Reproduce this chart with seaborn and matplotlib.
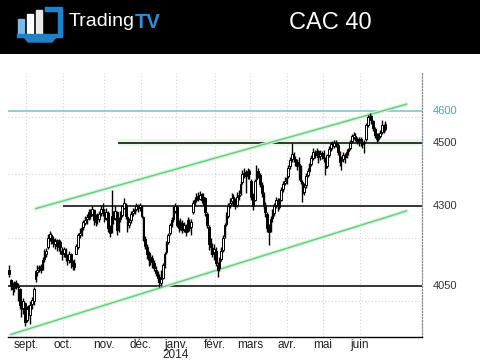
import matplotlib
matplotlib.use("Agg")
import matplotlib.pyplot as plt
import matplotlib.transforms as mtransforms
from matplotlib.patches import Rectangle, Polygon
import numpy as np
import pandas as pd
import seaborn as sns

# trading calendar (Euronext), axis runs a few weeks past the last candle
first_day = "2013-08-19"
axis_last_day = "2014-07-18"
market_holidays = ["2013-12-25", "2013-12-26", "2014-01-01",
                   "2014-04-18", "2014-04-21", "2014-05-01"]

opens = [4100, 4068, 4045, 4042, 4058, 4050, 4040, 3985, 3978, 3995,
         3940, 3980, 3958, 3992, 4000, 4070, 4092, 4105, 4110, 4102, 4135,
         4148, 4170, 4200, 4210, 4198, 4180, 4192, 4170, 4188, 4160,
         4152, 4162, 4138, 4130, 4148, 4120, 4108, 4150, 4170, 4208,
         4220, 4235, 4248, 4258, 4262, 4282, 4275, 4288, 4250, 4268, 4258, 4278, 4292,
         4280, 4262, 4278, 4235, 4220, 4268, 4262, 4280, 4228, 4258, 4272,
         4295, 4305, 4265, 4242, 4255, 4278, 4283, 4292, 4302, 4298,
         4300, 4265, 4195, 4170, 4152, 4128, 4138, 4120, 4100, 4088,
         4078, 4058, 4075, 4112, 4155, 4188, 4215, 4242, 4258, 4285,
         4298, 4242, 4235, 4248, 4228, 4238, 4225, 4250, 4235, 4280, 4312,
         4318, 4332, 4322, 4338, 4322, 4325, 4275, 4235, 4185, 4168, 4155,
         4160, 4115, 4105, 4135, 4162, 4205, 4245, 4268, 4302, 4315,
         4328, 4318, 4305, 4332, 4340, 4375, 4402, 4408, 4398, 4412,
         4380, 4335, 4320, 4385, 4412, 4398, 4365, 4338, 4305, 4275, 4235,
         4225, 4262, 4278, 4302, 4318, 4298, 4320, 4355, 4372, 4382,
         4395, 4425, 4448, 4462, 4448, 4438, 4428, 4425, 4375, 4345,
         4365, 4398, 4412, 4432, 4452, 4468, 4462, 4472, 4458, 4468,
         4462, 4448, 4425, 4462, 4482, 4492, 4488, 4502, 4492, 4468, 4442,
         4448, 4458, 4458, 4472, 4482, 4505, 4518, 4522, 4512, 4508,
         4512, 4502, 4498, 4510, 4555, 4582, 4583, 4568, 4542, 4522,
         4512, 4522, 4532, 4552, 4542]
highs = [4115, 4070, 4060, 4065, 4068, 4058, 4042, 4000, 4010, 3998,
         3985, 3990, 4000, 4015, 4045, 4100, 4115, 4115, 4118, 4140, 4165,
         4168, 4212, 4221, 4215, 4205, 4200, 4198, 4195, 4192, 4170,
         4172, 4168, 4150, 4160, 4152, 4130, 4135, 4180, 4215, 4230,
         4240, 4256, 4268, 4275, 4290, 4292, 4304, 4292, 4275, 4278, 4285, 4305, 4310,
         4290, 4295, 4285, 4240, 4350, 4285, 4300, 4285, 4265, 4285, 4305,
         4326, 4310, 4272, 4262, 4285, 4295, 4302, 4310, 4308, 4310,
         4305, 4270, 4205, 4180, 4160, 4150, 4146, 4130, 4112, 4095,
         4085, 4100, 4120, 4155, 4190, 4215, 4248, 4265, 4300, 4310,
         4302, 4255, 4262, 4255, 4250, 4245, 4266, 4258, 4260, 4320, 4329,
         4340, 4345, 4347, 4342, 4340, 4330, 4282, 4240, 4200, 4184, 4180,
         4170, 4125, 4140, 4170, 4210, 4247, 4280, 4310, 4325, 4341,
         4338, 4325, 4345, 4350, 4380, 4413, 4420, 4415, 4420, 4418,
         4385, 4340, 4385, 4429, 4420, 4405, 4375, 4345, 4312, 4282, 4245,
         4270, 4290, 4310, 4330, 4325, 4325, 4360, 4380, 4392, 4398,
         4430, 4455, 4499, 4470, 4458, 4448, 4455, 4430, 4382, 4372,
         4404, 4420, 4436, 4460, 4483, 4478, 4483, 4478, 4477, 4475,
         4477, 4455, 4465, 4490, 4502, 4505, 4508, 4508, 4498, 4475, 4458,
         4470, 4468, 4480, 4483, 4508, 4528, 4532, 4530, 4518, 4518,
         4518, 4510, 4508, 4562, 4588, 4593, 4588, 4572, 4548, 4530,
         4530, 4540, 4571, 4560, 4568]
lows = [4078, 4035, 4020, 4030, 4040, 4000, 3975, 3950, 3960, 3923,
        3935, 3945, 3930, 3975, 3990, 4062, 4080, 4092, 4090, 4098, 4125,
        4140, 4165, 4190, 4180, 4170, 4165, 4160, 4160, 4150, 4130,
        4140, 4128, 4115, 4120, 4105, 4099, 4100, 4148, 4165, 4200,
        4205, 4225, 4240, 4245, 4255, 4260, 4270, 4240, 4238, 4245, 4250, 4270, 4270,
        4250, 4255, 4220, 4203, 4215, 4245, 4255, 4209, 4220, 4250, 4265,
        4290, 4260, 4218, 4230, 4248, 4270, 4275, 4285, 4282, 4285,
        4262, 4190, 4165, 4135, 4110, 4115, 4105, 4095, 4080, 4060,
        4045, 4048, 4070, 4105, 4150, 4180, 4210, 4235, 4250, 4278,
        4235, 4220, 4225, 4215, 4218, 4205, 4220, 4222, 4210, 4275, 4305,
        4312, 4315, 4318, 4310, 4300, 4270, 4230, 4162, 4150, 4140, 4130,
        4110, 4077, 4095, 4128, 4155, 4200, 4238, 4262, 4295, 4308,
        4300, 4290, 4298, 4320, 4335, 4370, 4390, 4340, 4385, 4385,
        4320, 4288, 4315, 4380, 4390, 4360, 4330, 4290, 4266, 4220, 4178,
        4218, 4250, 4270, 4295, 4285, 4290, 4315, 4344, 4365, 4370,
        4389, 4418, 4440, 4440, 4425, 4414, 4382, 4370, 4313, 4335,
        4358, 4392, 4405, 4425, 4445, 4450, 4455, 4436, 4445, 4448,
        4440, 4398, 4420, 4455, 4475, 4480, 4482, 4485, 4460, 4425, 4414,
        4440, 4436, 4450, 4462, 4478, 4500, 4510, 4505, 4495, 4490,
        4490, 4483, 4468, 4505, 4550, 4572, 4560, 4535, 4515, 4502,
        4505, 4515, 4528, 4530, 4535]
closes = [4085, 4050, 4040, 4060, 4055, 4045, 3990, 3975, 4000, 3935,
          3975, 3960, 3990, 4005, 4040, 4095, 4100, 4108, 4100, 4130, 4150,
          4160, 4200, 4212, 4195, 4185, 4190, 4175, 4185, 4170, 4150,
          4165, 4140, 4135, 4150, 4125, 4110, 4120, 4175, 4210, 4215,
          4230, 4250, 4255, 4265, 4280, 4270, 4290, 4255, 4265, 4260, 4275, 4290, 4285,
          4260, 4280, 4230, 4215, 4270, 4260, 4285, 4225, 4255, 4275, 4300,
          4310, 4270, 4240, 4250, 4275, 4285, 4290, 4300, 4295, 4305,
          4270, 4200, 4175, 4150, 4130, 4140, 4125, 4105, 4090, 4075,
          4060, 4070, 4115, 4150, 4185, 4210, 4240, 4255, 4290, 4300,
          4240, 4230, 4250, 4225, 4240, 4220, 4255, 4230, 4250, 4310, 4320,
          4330, 4325, 4335, 4320, 4330, 4280, 4240, 4180, 4170, 4150, 4165,
          4120, 4100, 4130, 4160, 4200, 4240, 4270, 4300, 4310, 4325,
          4320, 4300, 4330, 4335, 4370, 4400, 4405, 4395, 4410, 4400,
          4330, 4300, 4380, 4410, 4400, 4370, 4340, 4300, 4280, 4230, 4220,
          4260, 4280, 4300, 4320, 4300, 4315, 4350, 4370, 4380, 4390,
          4420, 4445, 4465, 4450, 4440, 4425, 4430, 4380, 4340, 4360,
          4395, 4410, 4430, 4450, 4470, 4460, 4475, 4455, 4465, 4460,
          4450, 4420, 4460, 4480, 4495, 4490, 4500, 4495, 4470, 4440, 4445,
          4460, 4455, 4470, 4480, 4500, 4520, 4525, 4515, 4505, 4510,
          4505, 4495, 4500, 4555, 4580, 4585, 4570, 4545, 4525, 4510,
          4520, 4530, 4555, 4540, 4560]

month_starts = ["2013-09-01", "2013-10-01", "2013-11-01", "2013-12-01", "2014-01-01",
                "2014-02-01", "2014-03-01", "2014-04-01", "2014-05-01", "2014-06-01"]
month_labels = ["sept.", "oct.", "nov.", "déc.", "janv.\n2014",
                "févr.", "mars", "avr.", "mai", "juin"]

level_values = [4600, 4500, 4300, 4050]
level_starts = [first_day, "2013-11-13", "2013-10-01", first_day]
level_colors = ["#6cc3dc", "black", "black", "black"]
level_text_colors = ["#4a9fd0", "#333333", "#333333", "#333333"]

channel_days = ["2013-09-09", "2014-07-08"]
channel_upper = [4292, 4621]
channel_lower_days = ["2013-08-20", "2014-07-08"]
channel_lower = [3896, 4285]

grid_values = [4000, 4200, 4400, 4580]

sns.set_style("white")
plt.rcParams["font.family"] = ["Liberation Sans", "DejaVu Sans"]

days = pd.bdate_range(first_day, axis_last_day)
days = days[~days.isin(pd.to_datetime(market_holidays))]


def day_pos(d):
    return int(np.searchsorted(days, pd.Timestamp(d)))


fig = plt.figure(figsize=(4.8, 3.6), dpi=100)
ax = fig.add_axes([8 / 480, 23 / 360, 413.7 / 480, 264 / 360])

df = pd.DataFrame({"open": opens, "high": highs, "low": lows, "close": closes})
df["pos"] = np.arange(len(df))
up = df["close"] >= df["open"]

# grid
month_pos = [day_pos(m) for m in month_starts]
for p in month_pos:
    ax.axvline(p - 0.5, color="#d4d4d4", lw=0.8, ls=(0, (1, 2)), zorder=0)
for g in grid_values:
    ax.axhline(g, color="#d4d4d4", lw=0.8, ls=(0, (1, 2)), zorder=0)

x_end = len(days) - 0.5

# levels
for val, start, col in zip(level_values, level_starts, level_colors):
    if val == 4500:
        ax.hlines(val + 2, day_pos(start) - 0.5, x_end, color="#eaf8ea", lw=5, zorder=1)
    ax.hlines(val, day_pos(start) - 0.5, x_end, color=col, lw=1.1, zorder=2)

# channel
for dd, vv in [(channel_days, channel_upper), (channel_lower_days, channel_lower)]:
    cx = [day_pos(d) for d in dd]
    sns.lineplot(x=cx, y=vv, ax=ax, color="#d6f3db", lw=2.6, zorder=2)
    sns.lineplot(x=cx, y=vv, ax=ax, color="#5fd07a", lw=1.0, zorder=2)

# candles
ax.vlines(df["pos"], df["low"], df["high"], color="black", lw=1.0, zorder=3)
body = (df["close"] - df["open"]).abs().clip(lower=3)
bottom = df[["open", "close"]].min(axis=1)
ax.bar(df["pos"][up], body[up], bottom=bottom[up], width=0.95,
       color="white", edgecolor="black", lw=0.7, zorder=4)
ax.bar(df["pos"][~up], body[~up], bottom=bottom[~up], width=0.95,
       color="black", edgecolor="black", lw=0.7, zorder=4)

ax.set_xlim(-0.6, x_end)
ax.set_ylim(3888, 4719)
ax.set_xticks([p - 0.5 for p in month_pos])
ax.set_xticklabels(month_labels)
ax.set_yticks([])
ax.tick_params(axis="x", length=0, pad=1.5, labelsize=8.5, labelcolor="#222222")
for lab in ax.get_xticklabels():
    lab.set_linespacing(0.8)

for side in ["left", "top"]:
    ax.spines[side].set_visible(False)
ax.spines["bottom"].set_color("black")
ax.spines["bottom"].set_linewidth(1.0)
ax.spines["right"].set_color("#7d8a96")
ax.spines["right"].set_linestyle((0, (1, 1.5)))
ax.spines["right"].set_linewidth(0.9)

trans = mtransforms.blended_transform_factory(ax.transAxes, ax.transData)
for val, tc in zip(level_values, level_text_colors):
    ax.text(1.026, val, str(val), transform=trans, ha="left", va="center",
            fontsize=8, color=tc)

# header band
hax = fig.add_axes([0, 1 - 54 / 360, 1, 54 / 360])
hax.set_xlim(0, 480)
hax.set_ylim(54, 0)
hax.axis("off")
hax.add_patch(Rectangle((0, 0), 480, 54, color="black"))
blue = "#1f82c9"
hax.add_patch(Rectangle((18, 19), 6, 15, color="#7bbbe8"))
hax.add_patch(Rectangle((27, 14), 6, 20, color="white"))
hax.add_patch(Rectangle((36, 10), 6, 24, color="#e8e8e8"))
hax.add_patch(Polygon([(45, 7), (62, 7), (62, 37), (17, 37), (17, 34), (58, 34),
                       (58, 11), (45, 11)], color=blue))
hax.add_patch(Polygon([(24, 37), (56, 37), (52, 42), (28, 42)], color=blue))
t1 = hax.text(69, 22, "Trading", color="white", fontsize=14, ha="left", va="center")
fig.canvas.draw()
bb = t1.get_window_extent()
hax.text(bb.x1, 22, "TV", color="#2d8fd6", fontsize=14.5, fontweight="bold",
         ha="left", va="center")
hax.text(330, 23, "CAC 40", color="white", fontsize=17, ha="center", va="center")

fig.savefig("out.png", dpi=100)
plt.close(fig)
